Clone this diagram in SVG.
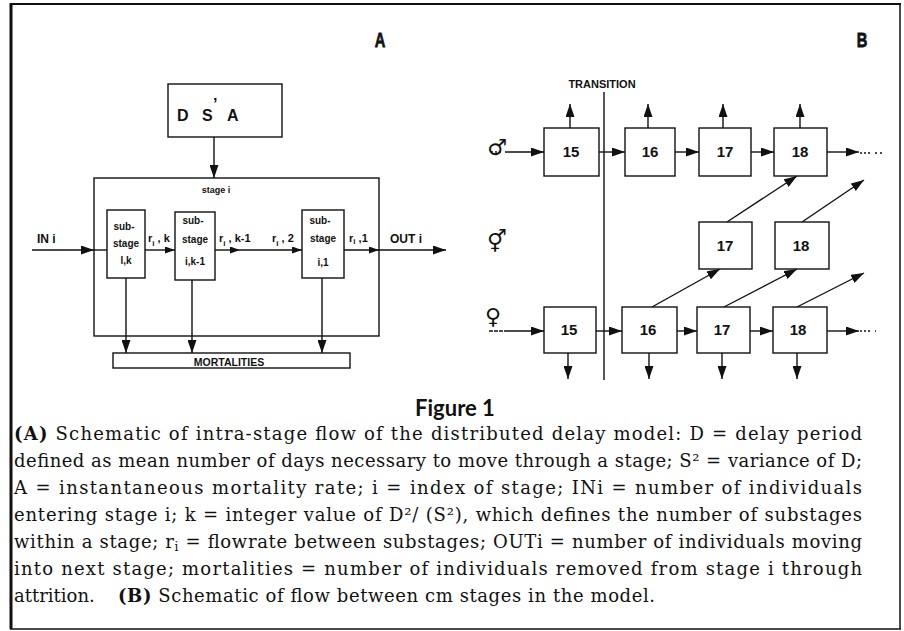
<svg xmlns="http://www.w3.org/2000/svg" width="904" height="631" viewBox="0 0 904 631">
<defs>
<style>
.bx{fill:#fff;stroke:#111;stroke-width:1.4}
.ln{fill:none;stroke:#111;stroke-width:1.4}
.sa{font-family:"Liberation Sans","DejaVu Sans",sans-serif;font-weight:bold;fill:#111}
.num{font-family:"Liberation Sans","DejaVu Sans",sans-serif;font-weight:bold;font-size:15px;fill:#111;text-anchor:middle}
.cap{font-family:"DejaVu Serif","Liberation Serif",serif;font-size:18px;fill:#111}
.sym{font-family:"DejaVu Sans",sans-serif;font-size:22px;fill:#111;text-anchor:middle}
</style>
<marker id="ah" markerUnits="userSpaceOnUse" markerWidth="13" markerHeight="9" refX="13" refY="4.5" orient="auto">
<path d="M0,0 L13,4.5 L0,9 z" fill="#111"/>
</marker>
<marker id="as" markerUnits="userSpaceOnUse" markerWidth="10" markerHeight="7" refX="10" refY="3.5" orient="auto">
<path d="M0,0 L10,3.5 L0,7 z" fill="#111"/>
</marker>
</defs>
<rect width="904" height="631" fill="#fff"/>
<g id="frame">
<line x1="11" y1="3" x2="11" y2="629" stroke="#111" stroke-width="3"/>
<line x1="10" y1="4" x2="901" y2="4" stroke="#111" stroke-width="2"/>
<line x1="900" y1="4" x2="900" y2="629" stroke="#111" stroke-width="1.5"/>
<line x1="10" y1="629" x2="901" y2="629" stroke="#111" stroke-width="1.5"/>
</g>
<text class="sa" x="380" y="47" font-size="21" text-anchor="middle" stroke="#111" stroke-width="0.8" transform="translate(380 0) scale(0.7 1) translate(-380 0)">A</text>
<text class="sa" x="862" y="47" font-size="21" text-anchor="middle" stroke="#111" stroke-width="0.8" transform="translate(862 0) scale(0.7 1) translate(-862 0)">B</text>
<g id="connectors">
<line class="ln" x1="214" y1="137" x2="214" y2="178" marker-end="url(#ah)"/>
<line class="ln" x1="32" y1="250" x2="94" y2="250" marker-end="url(#ah)"/>
<line class="ln" x1="94" y1="250" x2="107" y2="250"/>
<line class="ln" x1="145" y1="250" x2="175" y2="250" marker-end="url(#as)"/>
<line class="ln" x1="215" y1="250" x2="240" y2="250" marker-end="url(#as)"/>
<line class="ln" x1="240" y1="250" x2="302" y2="250" marker-end="url(#as)"/>
<line class="ln" x1="344" y1="250" x2="379" y2="250" marker-end="url(#as)"/>
<line class="ln" x1="379" y1="250" x2="446" y2="250" marker-end="url(#ah)"/>
<line class="ln" x1="126" y1="278" x2="126" y2="353" marker-end="url(#ah)"/>
<line class="ln" x1="192" y1="280" x2="192" y2="353" marker-end="url(#ah)"/>
<line class="ln" x1="322" y1="278" x2="322" y2="353" marker-end="url(#ah)"/>
<line class="ln" x1="604" y1="92" x2="604" y2="380"/>
<line class="ln" x1="491" y1="152" x2="502" y2="152" stroke-dasharray="2 2"/>
<line class="ln" x1="505" y1="152" x2="544" y2="152" marker-end="url(#ah)"/>
<line class="ln" x1="599" y1="152" x2="625" y2="152" marker-end="url(#ah)"/>
<line class="ln" x1="675" y1="152" x2="699" y2="152" marker-end="url(#ah)"/>
<line class="ln" x1="751" y1="152" x2="774" y2="152" marker-end="url(#ah)"/>
<line class="ln" x1="827" y1="152" x2="859" y2="152" marker-end="url(#ah)"/>
<line class="ln" x1="860" y1="153" x2="882" y2="153" stroke-dasharray="2 2 2 2 2 5 2 3"/>
<line class="ln" x1="570" y1="128" x2="570" y2="104" marker-end="url(#ah)"/>
<line class="ln" x1="648" y1="128" x2="648" y2="104" marker-end="url(#ah)"/>
<line class="ln" x1="723" y1="128" x2="723" y2="104" marker-end="url(#ah)"/>
<line class="ln" x1="800" y1="128" x2="800" y2="104" marker-end="url(#ah)"/>
<line class="ln" x1="489" y1="331" x2="508" y2="331" stroke-dasharray="4 1"/>
<line class="ln" x1="508" y1="331" x2="544" y2="331" marker-end="url(#ah)"/>
<line class="ln" x1="596" y1="331" x2="622" y2="331" marker-end="url(#ah)"/>
<line class="ln" x1="677" y1="331" x2="697" y2="331" marker-end="url(#ah)"/>
<line class="ln" x1="750" y1="331" x2="773" y2="331" marker-end="url(#ah)"/>
<line class="ln" x1="827" y1="331" x2="859" y2="331" marker-end="url(#ah)"/>
<line class="ln" x1="860" y1="331" x2="876" y2="331" stroke-dasharray="2 2 2 2 2 5"/>
<line class="ln" x1="568" y1="353" x2="568" y2="379" marker-end="url(#ah)"/>
<line class="ln" x1="649" y1="353" x2="649" y2="379" marker-end="url(#ah)"/>
<line class="ln" x1="722" y1="353" x2="722" y2="379" marker-end="url(#ah)"/>
<line class="ln" x1="797" y1="353" x2="797" y2="379" marker-end="url(#ah)"/>
<line class="ln" x1="652" y1="307" x2="720" y2="269" marker-end="url(#ah)"/>
<line class="ln" x1="724" y1="307" x2="797" y2="269" marker-end="url(#ah)"/>
<line class="ln" x1="797" y1="307" x2="864" y2="273" marker-end="url(#ah)"/>
<line class="ln" x1="727" y1="222" x2="797" y2="176" marker-end="url(#ah)"/>
<line class="ln" x1="802" y1="222" x2="864" y2="180" marker-end="url(#ah)"/>
</g>
<g id="dsa">
<rect class="bx" x="168" y="84" width="114" height="53"/>
<text class="sa" font-size="16" font-weight="normal" y="121"><tspan x="177">D</tspan><tspan x="202">S</tspan><tspan x="213" y="110">’</tspan><tspan x="227" y="121">A</tspan></text>
</g>
<g id="stage">
<rect class="ln" x="94" y="178" width="285" height="158"/>
<text class="sa" x="216" y="193" font-size="9" text-anchor="middle">stage i</text>
<text class="sa" x="37" y="243" font-size="12">IN i</text>
<text class="sa" x="390" y="243" font-size="12">OUT i</text>
<text class="sa" font-size="11" y="242"><tspan x="148">r</tspan><tspan font-size="8" dy="4">i</tspan><tspan dy="-4"> , k</tspan></text>
<text class="sa" font-size="11" y="242"><tspan x="219">r</tspan><tspan font-size="8" dy="4">i</tspan><tspan dy="-4"> , k-1</tspan></text>
<text class="sa" font-size="11" y="242"><tspan x="272">r</tspan><tspan font-size="8" dy="4">i</tspan><tspan dy="-4"> , 2</tspan></text>
<text class="sa" font-size="11" y="242"><tspan x="349">r</tspan><tspan font-size="8" dy="2">i</tspan><tspan dy="-2"> ,1</tspan></text>
</g>
<g id="substage-ik">
<rect class="bx" x="107" y="210" width="38" height="68"/>
<text class="sa" font-size="10" text-anchor="middle"><tspan x="124" y="230">sub-</tspan><tspan x="126" y="247">stage</tspan><tspan x="126" y="264">l,k</tspan></text>
</g>
<g id="substage-ik1">
<rect class="bx" x="175" y="212" width="40" height="68"/>
<text class="sa" font-size="10" text-anchor="middle"><tspan x="193" y="224">sub-</tspan><tspan x="195" y="243">stage</tspan><tspan x="195" y="265">i,k-1</tspan></text>
</g>
<g id="substage-i1">
<rect class="bx" x="302" y="210" width="42" height="68"/>
<text class="sa" font-size="10" text-anchor="middle"><tspan x="320" y="224">sub-</tspan><tspan x="323" y="242">stage</tspan><tspan x="323" y="266">i,1</tspan></text>
</g>
<g id="mortalities">
<rect class="bx" x="113" y="353" width="237" height="15"/>
<text class="sa" x="229" y="366" font-size="10.5" text-anchor="middle">MORTALITIES</text>
</g>
<text class="sa" x="602" y="88" font-size="11" text-anchor="middle">TRANSITION</text>
<text class="sym" x="497" y="155">♂</text>
<text class="sym" x="497" y="249">⚥</text>
<text class="sym" x="493" y="324">♀</text>
<g id="m15"><rect class="bx" x="544" y="128" width="55" height="48"/><text class="num" x="571" y="157">15</text></g>
<g id="m16"><rect class="bx" x="625" y="128" width="50" height="48"/><text class="num" x="650" y="157">16</text></g>
<g id="m17"><rect class="bx" x="699" y="128" width="52" height="48"/><text class="num" x="725" y="157">17</text></g>
<g id="m18"><rect class="bx" x="774" y="128" width="53" height="48"/><text class="num" x="800" y="157">18</text></g>
<g id="h17"><rect class="bx" x="699" y="222" width="53" height="47"/><text class="num" x="725" y="251">17</text></g>
<g id="h18"><rect class="bx" x="775" y="222" width="54" height="47"/><text class="num" x="801" y="251">18</text></g>
<g id="f15"><rect class="bx" x="544" y="307" width="52" height="46"/><text class="num" x="569" y="335">15</text></g>
<g id="f16"><rect class="bx" x="622" y="307" width="55" height="46"/><text class="num" x="648" y="335">16</text></g>
<g id="f17"><rect class="bx" x="697" y="307" width="53" height="46"/><text class="num" x="722" y="335">17</text></g>
<g id="f18"><rect class="bx" x="773" y="307" width="54" height="46"/><text class="num" x="798" y="335">18</text></g>
<text x="455" y="416" font-family="Lato,'Open Sans',sans-serif" font-weight="bold" font-size="22" text-anchor="middle" fill="#111">Figure 1</text>
<g class="cap">
<text x="14" y="440" textLength="848" lengthAdjust="spacing"><tspan font-weight="bold">(A)</tspan> Schematic of intra-stage flow of the distributed delay model: D = delay period</text>
<text x="14" y="467" textLength="848" lengthAdjust="spacing">defined as mean number of days necessary to move through a stage; S² = variance of D;</text>
<text x="14" y="494" textLength="848" lengthAdjust="spacing">A = instantaneous mortality rate; i = index of stage; INi = number of individuals</text>
<text x="14" y="521" textLength="848" lengthAdjust="spacing">entering stage i; k = integer value of D²/ (S²), which defines the number of substages</text>
<text x="14" y="548" textLength="848" lengthAdjust="spacing">within a stage; r<tspan font-size="12" dy="3">i</tspan><tspan dy="-3"> = flowrate between substages; OUTi = number of individuals moving</tspan></text>
<text x="14" y="575" textLength="848" lengthAdjust="spacing">into next stage; mortalities = number of individuals removed from stage i through</text>
<text x="14" y="602">attrition.</text>
<text x="118" y="602" textLength="537" lengthAdjust="spacing"><tspan font-weight="bold">(B)</tspan> Schematic of flow between cm stages in the model.</text>
</g>
</svg>
